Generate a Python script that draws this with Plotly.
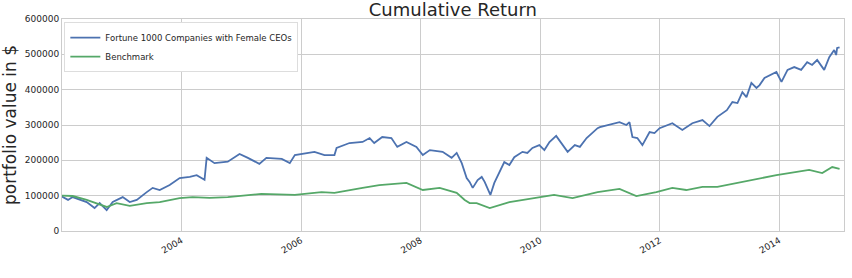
import plotly.graph_objects as go

# Fortune 1000 Companies with Female CEOs (portfolio value, $)
female_dates = [
    "2002-01-01", "2002-01-06", "2002-02-07", "2002-03-07", "2002-06-01", "2002-07-19",
    "2002-08-19", "2002-10-01", "2002-11-07", "2003-01-07", "2003-02-19", "2003-04-03",
    "2003-06-03", "2003-07-09", "2003-08-21", "2003-10-21", "2003-12-21", "2004-02-21",
    "2004-04-03", "2004-05-01", "2004-05-21", "2004-06-03", "2004-07-21", "2004-10-10",
    "2004-12-21", "2005-02-10", "2005-04-21", "2005-06-03", "2005-09-05", "2005-10-24",
    "2005-11-24", "2006-03-24", "2006-05-24", "2006-07-24", "2006-08-06", "2006-10-24",
    "2007-01-12", "2007-02-24", "2007-03-24", "2007-05-12", "2007-07-07", "2007-08-12",
    "2007-10-07", "2007-12-07", "2008-01-15", "2008-02-27", "2008-05-15", "2008-07-09",
    "2008-08-09", "2008-09-09", "2008-10-09", "2008-10-27", "2008-11-15", "2008-12-15",
    "2009-01-09", "2009-01-27", "2009-03-03", "2009-03-27", "2009-04-27", "2009-05-27",
    "2009-06-27", "2009-07-27", "2009-09-15", "2009-10-15", "2009-11-15", "2009-12-27",
    "2010-01-27", "2010-02-27", "2010-04-09", "2010-05-09", "2010-06-18", "2010-08-01",
    "2010-09-01", "2010-10-12", "2010-11-18", "2010-12-18", "2011-01-01", "2011-03-01",
    "2011-05-01", "2011-06-12", "2011-07-01", "2011-07-19", "2011-08-18", "2011-09-18",
    "2011-11-01", "2011-12-01", "2012-01-01", "2012-03-19", "2012-05-19", "2012-07-19",
    "2012-09-19", "2012-11-01", "2012-12-19", "2013-02-15", "2013-03-21", "2013-04-21",
    "2013-05-21", "2013-06-15", "2013-07-15", "2013-08-15", "2013-09-03", "2013-10-03",
    "2013-11-03", "2013-12-15", "2014-01-15", "2014-02-21", "2014-04-03", "2014-05-15",
    "2014-06-21", "2014-07-21", "2014-08-21", "2014-10-03", "2014-11-03", "2014-12-03",
    "2014-12-15", "2014-12-21", "2015-01-05",
]
female_values = [
    100000, 96000, 88000, 96000, 82000, 65000,
    79000, 59000, 82000, 96000, 82000, 88000,
    110000, 122000, 116000, 130000, 150000, 153000,
    158000, 150000, 145000, 207000, 192000, 196000,
    218000, 207000, 190000, 207000, 204000, 192000,
    215000, 224000, 215000, 215000, 235000, 249000,
    252000, 263000, 249000, 266000, 263000, 238000,
    252000, 238000, 215000, 229000, 224000, 207000,
    221000, 192000, 150000, 139000, 122000, 144000,
    153000, 139000, 102000, 136000, 167000, 195000,
    187000, 209000, 224000, 221000, 235000, 243000,
    229000, 252000, 269000, 249000, 224000, 243000,
    238000, 263000, 280000, 291000, 294000, 300000,
    308000, 300000, 308000, 266000, 263000, 243000,
    280000, 277000, 291000, 305000, 286000, 305000,
    314000, 297000, 323000, 342000, 365000, 362000,
    393000, 379000, 419000, 405000, 413000, 433000,
    441000, 450000, 422000, 456000, 464000, 456000,
    478000, 470000, 484000, 456000, 492000, 512000,
    498000, 518000, 520000,
]

# Benchmark (portfolio value, $)
bench_dates = [
    "2002-01-01", "2002-03-07", "2002-06-01", "2002-08-01", "2002-10-01", "2002-12-01",
    "2003-02-19", "2003-06-03", "2003-08-21", "2003-12-21", "2004-03-09", "2004-06-21",
    "2004-10-10", "2005-05-03", "2005-11-24", "2006-05-06", "2006-07-24", "2007-01-12",
    "2007-04-24", "2007-10-07", "2008-01-15", "2008-04-27", "2008-08-09", "2008-09-27",
    "2008-10-27", "2008-12-09", "2009-02-27", "2009-06-27", "2009-12-27", "2010-03-27",
    "2010-07-18", "2010-12-18", "2011-05-01", "2011-08-12", "2011-12-12", "2012-03-19",
    "2012-06-12", "2012-09-19", "2012-12-19", "2013-05-21", "2013-12-15", "2014-07-03",
    "2014-09-21", "2014-11-21", "2015-01-05",
]
bench_values = [
    100000, 99000, 88000, 79000, 68000, 79000,
    71000, 79000, 82000, 93000, 96000, 94000,
    96000, 105000, 102000, 110000, 108000, 122000,
    130000, 136000, 116000, 122000, 108000, 88000,
    79000, 79000, 65000, 82000, 96000, 102000,
    93000, 110000, 119000, 99000, 110000, 122000,
    116000, 125000, 125000, 139000, 158000, 173000,
    164000, 181000, 176000,
]

y_ticks = [0, 100000, 200000, 300000, 400000, 500000, 600000]
x_ticks = ["2004-01-01", "2006-01-01", "2008-01-01", "2010-01-01", "2012-01-01", "2014-01-01"]
x_tick_labels = ["2004", "2006", "2008", "2010", "2012", "2014"]

FONT = "DejaVu Sans"
GRID = "#cccccc"
TXT = "#262626"

fig = go.Figure()
fig.add_trace(go.Scatter(x=female_dates, y=female_values, mode="lines",
                         name="Fortune 1000 Companies with Female CEOs",
                         line=dict(color="#4C72B0", width=1.8)))
fig.add_trace(go.Scatter(x=bench_dates, y=bench_values, mode="lines",
                         name="Benchmark",
                         line=dict(color="#55A868", width=1.8)))

fig.update_layout(
    width=852, height=278,
    margin=dict(l=62, r=8, t=19, b=47),
    paper_bgcolor="white", plot_bgcolor="white",
    font=dict(family=FONT, size=9, color=TXT),
    title=dict(text="Cumulative Return", x=0.5315, xanchor="center",
               y=1 - 10 / 278, yanchor="middle", yref="container",
               font=dict(family=FONT, size=18, color=TXT)),
    showlegend=True,
    legend=dict(x=0.003, y=0.985, xanchor="left", yanchor="top",
                bgcolor="white", bordercolor="#dddddd", borderwidth=1,
                font=dict(family=FONT, size=8.5, color=TXT),
                itemwidth=30, tracegroupgap=0),
)
fig.update_xaxes(type="date", range=["2002-01-01", "2015-02-01"],
                 tickvals=x_ticks, ticktext=x_tick_labels, tickangle=-30,
                 showgrid=True, gridcolor=GRID, gridwidth=1,
                 showline=True, linecolor=GRID, linewidth=1, mirror=True,
                 ticks="", zeroline=False,
                 tickfont=dict(family=FONT, size=9, color=TXT))
fig.update_yaxes(range=[0, 600000], tickvals=y_ticks,
                 ticktext=[str(v) for v in y_ticks],
                 showgrid=True, gridcolor=GRID, gridwidth=1,
                 showline=True, linecolor=GRID, linewidth=1, mirror=True,
                 ticks="", zeroline=False,
                 tickfont=dict(family=FONT, size=9, color=TXT),
                 title=dict(text="portfolio value in $", standoff=4,
                            font=dict(family=FONT, size=17, color=TXT)))

fig.write_html("out.html")
